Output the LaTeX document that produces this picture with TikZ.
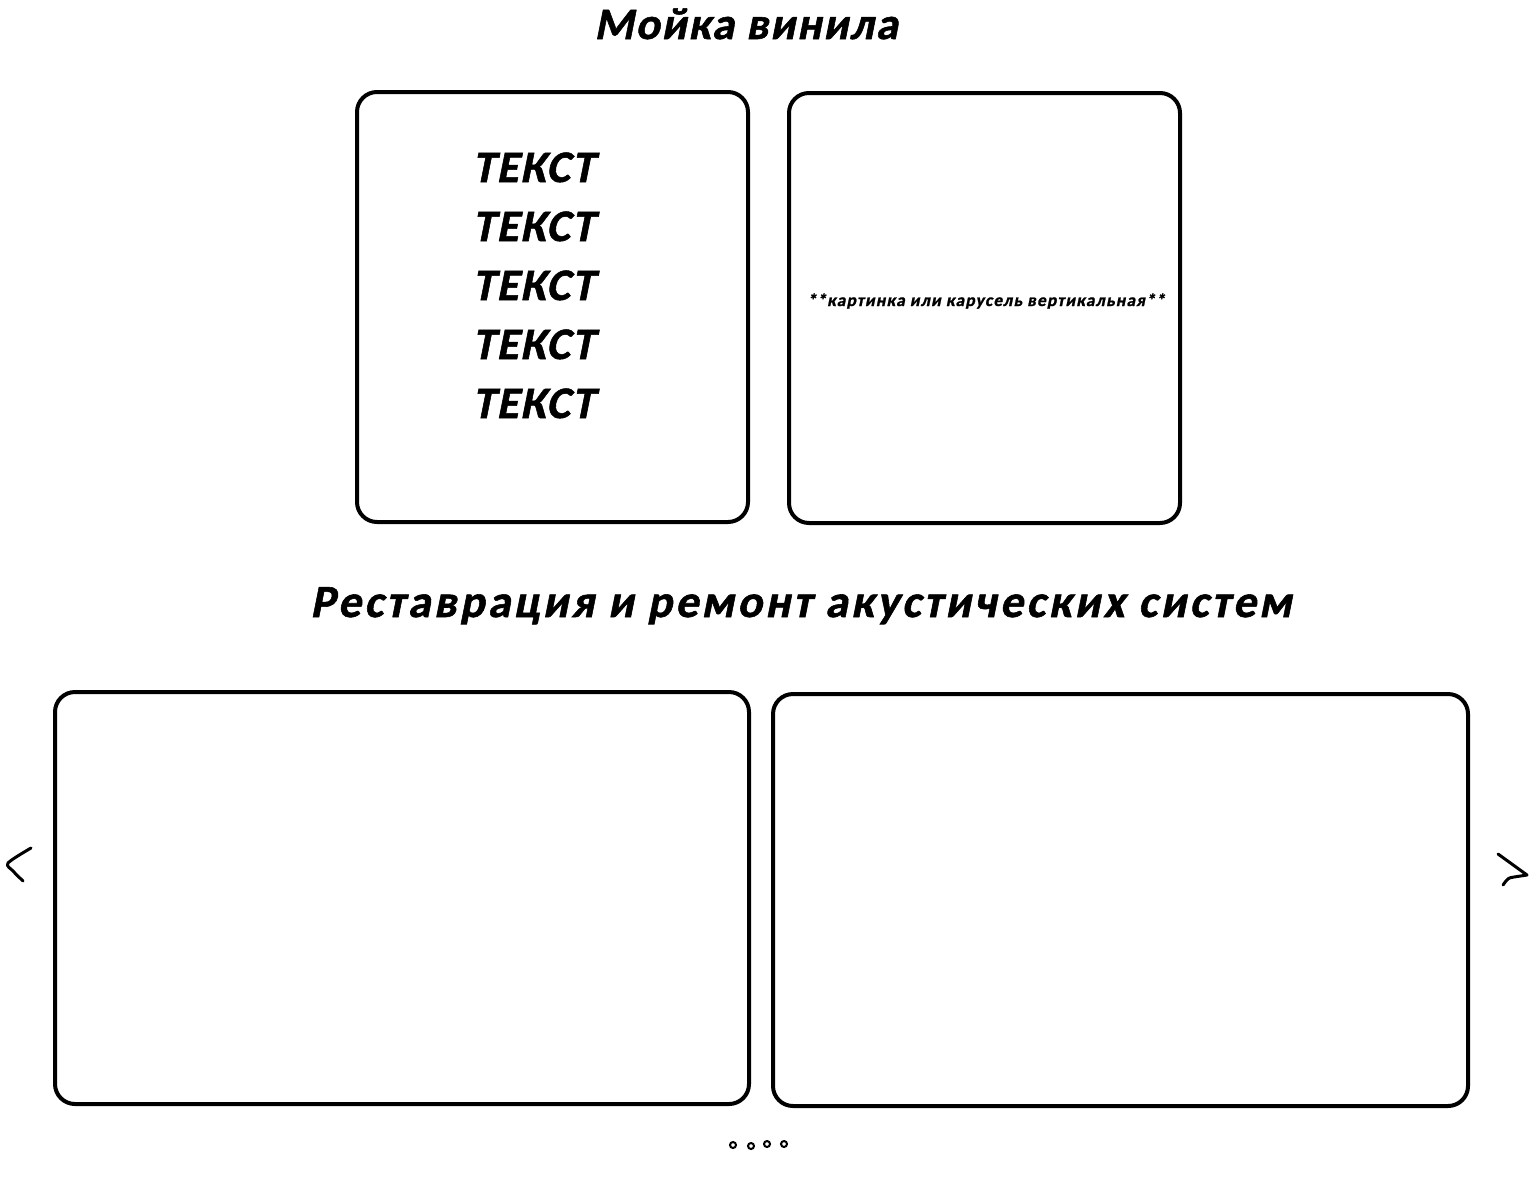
\documentclass[tikz,border=0pt]{standalone}
\usepackage{fontspec}
\setmainfont{Carlito}
\newfontfamily\sketchfont{Carlito}[UprightFont=* Bold,FakeSlant=0.2,FakeBold=1.2,LetterSpace=4]
\usepackage{tikz}
\usetikzlibrary{calc}

\begin{document}
\begin{tikzpicture}[x=1pt,y=-1pt,
  panel/.style={draw,line width=4pt,rounded corners=20pt,inner sep=0pt},
  heading/.style={anchor=base,font=\sketchfont\fontsize{45}{50}\selectfont},
  stroke/.style={line width=3pt,line cap=round,line join=round}]
  \useasboundingbox (0,0) rectangle (1538,1178);
  % Titles
  \node[heading] (title1) at (746,39) {Мойка винила};
  \node[heading,font=\sketchfont\fontsize{46}{50}\selectfont\addfontfeature{LetterSpace=7}]
    (title2) at (801,617) {Реставрация и ремонт акустических систем};
  % Upper panels
  \node[panel,minimum width=391pt,minimum height=430pt] (textbox) at (552.5,307) {};
  \node[panel,minimum width=391pt,minimum height=430pt] (picbox) at (984.5,308) {};
  \foreach \i in {0,...,4}
    \node[anchor=base west,font=\sketchfont\fontsize{45}{50}\selectfont]
      (line\i) at (469,{182+59*\i}) {ТЕКСТ};
  \node[anchor=base,font=\sketchfont\fontsize{17.5}{20}\selectfont\addfontfeature{LetterSpace=6.5}]
    (picnote) at (986,306) {**картинка или карусель вертикальная**};
  % Lower carousel
  \node[panel,minimum width=694pt,minimum height=412pt] (slideA) at (402,898) {};
  \node[panel,minimum width=695pt,minimum height=412pt] (slideB) at (1120.5,900) {};
  % Hand-drawn arrows
  \draw[stroke] plot[smooth] coordinates {(31,848)(8,863)(13,871)(23,881)};
  \draw[stroke] (1498,854) -- (1527,875) -- (1514,877) .. controls (1508,878) .. (1503,885);
  % Pager dots
  \foreach \x/\y in {733/1145,751/1146,767/1144,784/1144}
    \draw[line width=2pt] (\x,\y) circle (3pt);
\end{tikzpicture}
\end{document}
